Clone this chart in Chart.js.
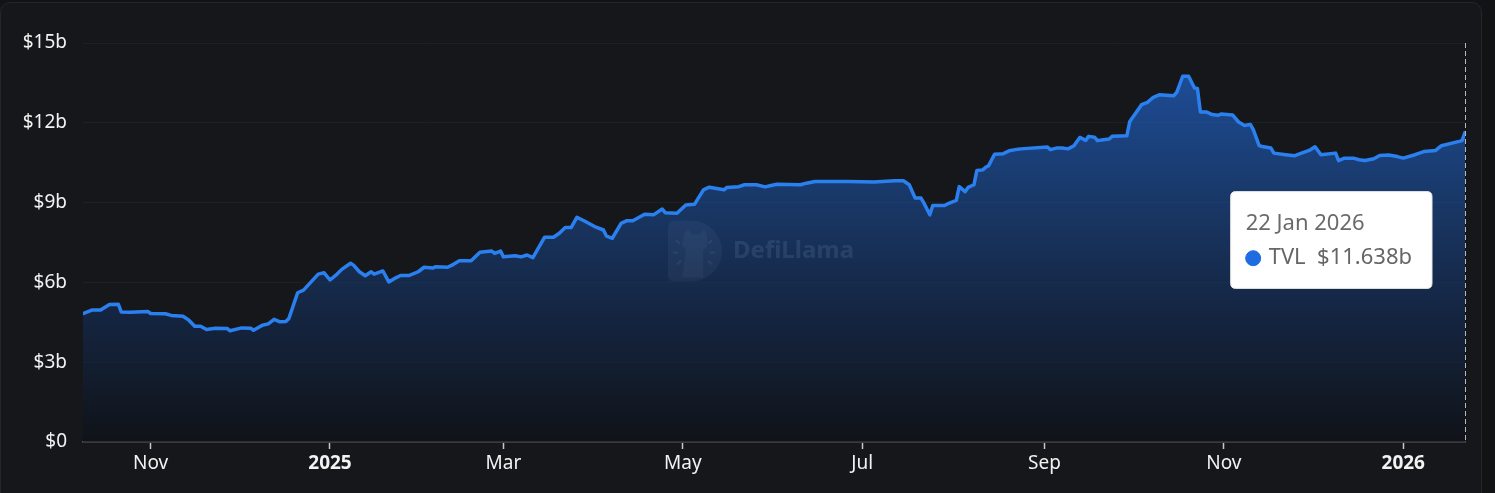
<!DOCTYPE html>
<html>
<head>
<meta charset="utf-8">
<script src="https://cdn.jsdelivr.net/npm/chart.js@4/dist/chart.umd.min.js"></script>
<style>
  html, body { margin: 0; padding: 0; background: #121315; width: 1495px; height: 493px; overflow: hidden; }
  #card { position: absolute; left: 0; top: 2px; width: 1482px; height: 520px; background: #16171a; border: 1px solid #25262a; border-radius: 10px; box-sizing: border-box; }
  #wrap { position: absolute; left: 0; top: 0; width: 1495px; height: 493px; }
</style>
</head>
<body>
<div id="card"></div>
<div id="wrap"><canvas id="c" width="1495" height="493"></canvas></div>
<script>
// ---- data (TVL in billions USD) ----
const dates = [
'2024-10-09','2024-10-12','2024-10-15','2024-10-18','2024-10-21','2024-10-22','2024-10-25','2024-10-31',
'2024-11-01','2024-11-06','2024-11-08','2024-11-12','2024-11-14','2024-11-16','2024-11-18','2024-11-20','2024-11-23','2024-11-27','2024-11-28',
'2024-12-02','2024-12-05','2024-12-06','2024-12-09','2024-12-11','2024-12-13','2024-12-15','2024-12-17','2024-12-18','2024-12-21','2024-12-23','2024-12-28','2024-12-30',
'2025-01-01','2025-01-03','2025-01-05','2025-01-08','2025-01-09','2025-01-11','2025-01-13','2025-01-15','2025-01-16','2025-01-19','2025-01-21','2025-01-23','2025-01-25','2025-01-28','2025-01-31',
'2025-02-02','2025-02-05','2025-02-06','2025-02-10','2025-02-12','2025-02-14','2025-02-18','2025-02-21','2025-02-25','2025-02-26','2025-02-28',
'2025-03-01','2025-03-05','2025-03-07','2025-03-09','2025-03-11','2025-03-15','2025-03-18','2025-03-20','2025-03-22','2025-03-24','2025-03-26','2025-03-29',
'2025-04-01','2025-04-04','2025-04-05','2025-04-07','2025-04-10','2025-04-12','2025-04-14','2025-04-18','2025-04-21','2025-04-24','2025-04-25','2025-04-29',
'2025-05-02','2025-05-05','2025-05-08','2025-05-10','2025-05-15','2025-05-16','2025-05-20','2025-05-22','2025-05-26','2025-05-29','2025-05-31',
'2025-06-02','2025-06-10','2025-06-12','2025-06-15','2025-06-26',
'2025-07-05','2025-07-12','2025-07-15','2025-07-17','2025-07-19','2025-07-21','2025-07-22','2025-07-24','2025-07-25','2025-07-29','2025-07-30',
'2025-08-02','2025-08-03','2025-08-05','2025-08-06','2025-08-08','2025-08-09','2025-08-11','2025-08-12','2025-08-13','2025-08-15','2025-08-18','2025-08-20','2025-08-23','2025-08-24',
'2025-09-02','2025-09-03','2025-09-05','2025-09-07','2025-09-09','2025-09-11','2025-09-13','2025-09-15','2025-09-16','2025-09-18','2025-09-19','2025-09-21','2025-09-23','2025-09-24','2025-09-29','2025-09-30',
'2025-10-04','2025-10-06','2025-10-08','2025-10-10','2025-10-15','2025-10-16','2025-10-18','2025-10-20','2025-10-22','2025-10-23','2025-10-24','2025-10-26','2025-10-28','2025-10-30','2025-10-31',
'2025-11-04','2025-11-06','2025-11-08','2025-11-10','2025-11-11','2025-11-13','2025-11-14','2025-11-17','2025-11-18','2025-11-22','2025-11-25','2025-11-26','2025-11-30',
'2025-12-02','2025-12-04','2025-12-09','2025-12-10','2025-12-12','2025-12-15','2025-12-17','2025-12-19','2025-12-22','2025-12-24','2025-12-27','2025-12-30',
'2026-01-01','2026-01-05','2026-01-08','2026-01-12','2026-01-14','2026-01-20','2026-01-21','2026-01-22'
];
const tvl = [
4.83,4.96,4.96,5.17,5.18,4.89,4.88,4.91,
4.83,4.82,4.76,4.73,4.58,4.35,4.35,4.23,4.28,4.27,4.18,
4.29,4.28,4.20,4.39,4.44,4.61,4.52,4.53,4.64,5.61,5.71,6.31,6.36,
6.09,6.27,6.49,6.72,6.65,6.40,6.25,6.40,6.31,6.43,6.02,6.15,6.26,6.26,6.40,
6.57,6.54,6.59,6.57,6.68,6.81,6.81,7.13,7.18,7.09,7.18,
6.96,7.00,6.96,7.03,6.93,7.70,7.70,7.85,8.06,8.06,8.45,8.28,
8.10,7.97,7.74,7.66,8.22,8.32,8.32,8.56,8.54,8.76,8.62,8.60,
8.91,8.94,9.48,9.58,9.48,9.57,9.60,9.67,9.67,9.59,9.64,
9.69,9.67,9.73,9.79,9.79,
9.77,9.82,9.82,9.67,9.17,9.17,8.98,8.54,8.89,8.89,8.95,
9.08,9.60,9.41,9.57,9.67,10.21,10.23,10.33,10.39,10.82,10.84,10.95,11.01,11.02,
11.09,10.99,11.05,11.05,11.02,11.14,11.45,11.34,11.49,11.46,11.33,11.36,11.39,11.49,11.51,12.05,
12.68,12.77,12.96,13.05,13.02,13.15,13.75,13.75,13.31,13.29,12.41,12.41,12.31,12.28,12.33,
12.29,12.03,11.90,11.94,11.74,11.14,11.11,11.05,10.86,10.80,10.76,10.80,10.96,
11.10,10.80,10.86,10.58,10.67,10.67,10.61,10.58,10.65,10.77,10.79,10.73,
10.67,10.80,10.92,10.96,11.14,11.30,11.33,11.638
];
const tickDates  = ['2024-11-01','2025-01-01','2025-03-01','2025-05-01','2025-07-01','2025-09-01','2025-11-01','2026-01-01'];
const tickLabels = ['Nov','2025','Mar','May','Jul','Sep','Nov','2026'];
const yTicks = [0, 3, 6, 9, 12, 15];
const seriesName = 'TVL';

// ---- helpers ----
const FONT = '"Noto Sans", "Open Sans", sans-serif';
const MONTHS = ['Jan','Feb','Mar','Apr','May','Jun','Jul','Aug','Sep','Oct','Nov','Dec'];
const ts = d => Date.parse(d);
const points = dates.map((d, i) => ({ x: ts(d), y: tvl[i] }));
const tickTs = tickDates.map(ts);
const lastIdx = dates.length - 1;

Chart.Tooltip.positioners.fixedBox = function () {
  const ca = this.chart.chartArea;
  return { x: ca.right - 33, y: ca.top + 197 };
};

const decor = {
  id: 'decor',
  beforeDatasetsDraw(chart) {
    const { ctx, chartArea: ca } = chart;
    const cx = (ca.left + ca.right) / 2, cy = (ca.top + ca.bottom) / 2;
    ctx.save();
    // watermark logo (D shape)
    const l = cx - 106, t = cy - 22, w = 54, h = 61;
    ctx.fillStyle = 'rgba(255,255,255,0.09)';
    ctx.beginPath();
    ctx.moveTo(l + 7, t);
    ctx.lineTo(l + w * 0.42, t);
    ctx.ellipse(l + w * 0.42, t + h / 2, w * 0.58, h / 2, 0, -Math.PI / 2, Math.PI / 2);
    ctx.lineTo(l + 7, t + h);
    ctx.quadraticCurveTo(l, t + h, l, t + h - 7);
    ctx.lineTo(l, t + 7);
    ctx.quadraticCurveTo(l, t, l + 7, t);
    ctx.fill();
    // llama silhouette
    ctx.fillStyle = 'rgba(255,255,255,0.07)';
    ctx.beginPath();
    ctx.moveTo(l + 16, t + 14); ctx.lineTo(l + 20, t + 8); ctx.lineTo(l + 24, t + 14);
    ctx.lineTo(l + 32, t + 14); ctx.lineTo(l + 36, t + 8); ctx.lineTo(l + 39, t + 15);
    ctx.lineTo(l + 39, t + 26); ctx.lineTo(l + 35, t + 30); ctx.lineTo(l + 35, t + h - 4);
    ctx.lineTo(l + 14, t + h - 4); ctx.lineTo(l + 18, t + 30); ctx.lineTo(l + 14, t + 24);
    ctx.closePath();
    ctx.fill();
    ctx.strokeStyle = 'rgba(255,255,255,0.13)';
    ctx.lineWidth = 2;
    [[l + 8, t + 20, l + 12, t + 23], [l + 5, t + 32, l + 10, t + 32], [l + 9, t + 44, l + 13, t + 40],
     [l + 44, t + 20, l + 40, t + 23], [l + 47, t + 32, l + 42, t + 32], [l + 44, t + 44, l + 40, t + 40]].forEach(s => {
      ctx.beginPath(); ctx.moveTo(s[0], s[1]); ctx.lineTo(s[2], s[3]); ctx.stroke();
    });
    // watermark text
    ctx.fillStyle = 'rgba(255,255,255,0.19)';
    ctx.font = 'bold 24px ' + FONT;
    ctx.textBaseline = 'middle';
    ctx.fillText('DefiLlama', l + 65, t + 31);
    ctx.restore();
  },
  afterDatasetsDraw(chart) {
    const { ctx, chartArea: ca, scales } = chart;
    const x = Math.round(scales.x.getPixelForValue(points[lastIdx].x)) + 0.5;
    ctx.save();
    ctx.strokeStyle = '#b8b8b8';
    ctx.lineWidth = 1;
    ctx.setLineDash([5, 3]);
    ctx.beginPath();
    ctx.moveTo(x, ca.top);
    ctx.lineTo(x, ca.bottom);
    ctx.stroke();
    ctx.restore();
  }
};

const chart = new Chart(document.getElementById('c'), {
  type: 'line',
  data: {
    datasets: [{
      label: seriesName,
      data: points,
      borderColor: '#2b80f0',
      borderWidth: 3.5,
      borderJoinStyle: 'round',
      borderCapStyle: 'round',
      pointRadius: 0,
      pointHoverRadius: 0,
      tension: 0,
      fill: 'origin',
      backgroundColor: (c) => {
        const ch = c.chart, ca = ch.chartArea;
        if (!ca) return 'rgba(33,114,229,0.3)';
        const top = ch.scales.y.getPixelForValue(Math.max(...tvl));
        const g = ch.ctx.createLinearGradient(0, top, 0, ca.bottom);
        g.addColorStop(0, 'rgba(35,110,225,0.62)');
        g.addColorStop(1, 'rgba(12,16,24,0.55)');
        return g;
      }
    }]
  },
  options: {
    responsive: false,
    devicePixelRatio: 1,
    animation: false,
    events: [],
    layout: { padding: { top: 43, right: 30, left: 0, bottom: 0 } },
    scales: {
      x: {
        type: 'linear',
        min: ts(dates[0]),
        max: ts(dates[lastIdx]),
        afterBuildTicks: (s) => { s.ticks = tickTs.map(v => ({ value: v })); },
        afterFit: (s) => { s.height = 51; },
        grid: { display: true, drawOnChartArea: false, drawTicks: true, tickLength: 7, tickColor: '#c8c8c8', tickWidth: 1.5, color: '#c8c8c8' },
        border: { display: true, color: '#545558', width: 1.5 },
        ticks: {
          autoSkip: false, maxRotation: 0, padding: 3,
          color: '#f2f2f2',
          font: (c) => ({ family: FONT, size: 19, weight: (c.tick && /^\d{4}$/.test(c.tick.label)) ? 'bold' : 'normal' }),
          callback: (v) => { const i = tickTs.indexOf(v); return i >= 0 ? tickLabels[i] : ''; }
        }
      },
      y: {
        min: 0, max: 15,
        afterBuildTicks: (s) => { s.ticks = yTicks.map(v => ({ value: v })); },
        afterFit: (s) => { s.width = 83; },
        grid: { color: '#1f2023', drawTicks: false, lineWidth: 1 },
        border: { display: false },
        ticks: {
          padding: 16, color: '#f2f2f2',
          font: { family: FONT, size: 19 },
          callback: (v) => '$' + v + (v === 0 ? '' : 'b')
        }
      }
    },
    plugins: {
      legend: { display: false },
      tooltip: {
        enabled: true,
        animation: false,
        position: 'fixedBox',
        xAlign: 'right', yAlign: 'center',
        caretSize: 0, caretPadding: 0,
        backgroundColor: '#ffffff',
        borderColor: '#e6e6e6', borderWidth: 1,
        cornerRadius: 5,
        titleColor: '#6a6a6a', bodyColor: '#666666',
        titleFont: { family: FONT, size: 22, weight: 'normal' },
        bodyFont: { family: FONT, size: 22, weight: 'normal' },
        padding: { top: 19, bottom: 17, left: 15, right: 20 },
        titleMarginBottom: 8,
        displayColors: true, usePointStyle: true,
        boxWidth: 15, boxHeight: 15, boxPadding: 6,
        callbacks: {
          title: (items) => { const d = new Date(items[0].parsed.x); return d.getUTCDate() + ' ' + MONTHS[d.getUTCMonth()] + ' ' + d.getUTCFullYear(); },
          label: (item) => seriesName + '  $' + item.parsed.y.toFixed(3) + 'b',
          labelColor: () => ({ borderColor: '#1f6be0', backgroundColor: '#1f6be0', borderWidth: 0 }),
          labelPointStyle: () => ({ pointStyle: 'circle', rotation: 0 })
        }
      }
    }
  },
  plugins: [decor]
});

chart.tooltip.setActiveElements([{ datasetIndex: 0, index: lastIdx }], { x: 0, y: 0 });
chart.update();
</script>
</body>
</html>
